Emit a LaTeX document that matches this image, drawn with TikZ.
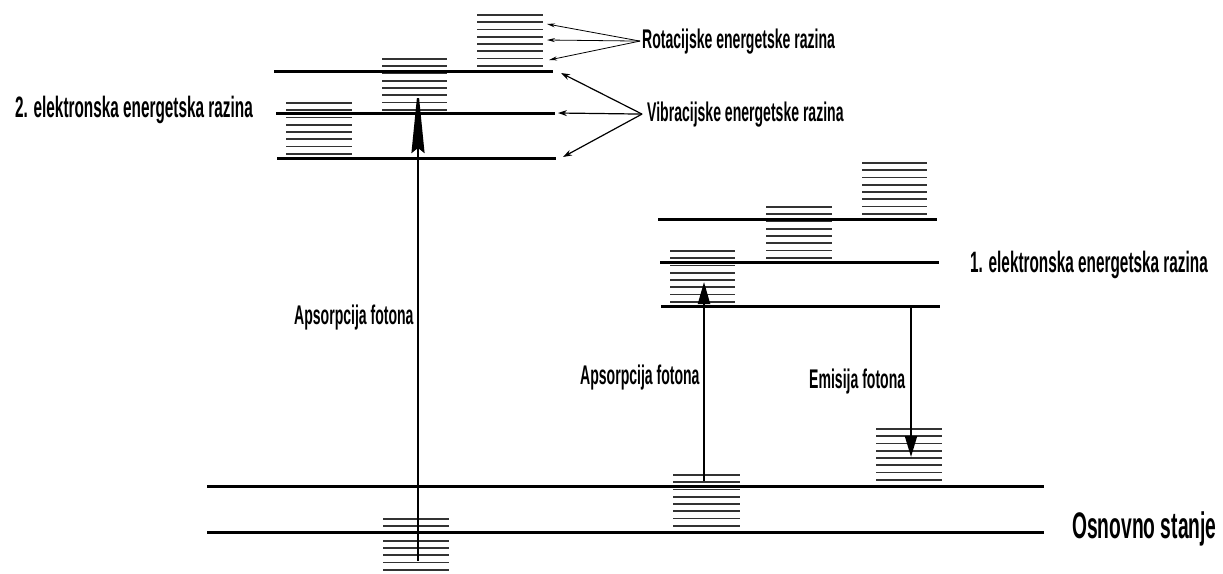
\documentclass[tikz,border=0pt]{standalone}
\usepackage{fontspec}
\setmainfont{Liberation Sans}[FakeStretch=0.52]
\usetikzlibrary{arrows.meta}
\tikzstyle{elevel}=[line width=3pt]
\tikzstyle{rlevel}=[line width=1.8pt, black!80]
\tikzstyle{lab}=[inner sep=2pt, font=\bfseries\fontsize{27}{30}\selectfont]
\tikzstyle{biglab}=[inner sep=2pt, font=\bfseries\fontsize{29.5}{32}\selectfont]
\tikzstyle{photon}=[line width=2.2pt]
\tikzstyle{pointer}=[line width=1.2pt, -{Stealth[length=9pt,width=6pt]}]
\tikzstyle{thinpointer}=[line width=0.8pt, -{Stealth[length=8pt,width=4pt]}]
\newcommand{\rotlevels}[3]{\foreach \k in {0,...,7} \draw[rlevel] (#1,{#3+7.25*\k}) -- (#2,{#3+7.25*\k});}

\begin{document}
\begin{tikzpicture}[x=1pt, y=-1pt]
\useasboundingbox (0,0) rectangle (1223,573);
% rotacijske razine
\rotlevels{286}{352}{103}
\rotlevels{382}{447}{59}
\rotlevels{477}{543}{15}
\rotlevels{670}{735}{251}
\rotlevels{766}{832}{207}
\rotlevels{862}{927}{163}
\rotlevels{383}{449}{519}
\rotlevels{673}{740}{475}
\rotlevels{876}{942}{429}
% vibracijske razine
\draw[elevel] (274,71) -- (553,71);
\draw[elevel] (276,113) -- (555,113);
\draw[elevel] (277,158) -- (556,158);
\draw[elevel] (658,219) -- (937,219);
\draw[elevel] (660,262) -- (939,262);
\draw[elevel] (661,306) -- (940,306);
\draw[elevel] (207,486) -- (1044,486);
\draw[elevel] (207,532) -- (1044,532);
% labels
\node[lab, anchor=base west] (rot) at (640,48) {Rotacijske energetske razina};
\node[lab, anchor=base west, inner sep=5pt] (vib) at (642,121) {Vibracijske energetske razina};
\node[biglab, anchor=base west] (el2) at (13,117) {2. elektronska energetska razina};
\node[biglab, anchor=base west] (el1) at (968,272) {1. elektronska energetska razina};
\node[lab, anchor=base west] (aps1) at (292,324) {Apsorpcija fotona};
\node[lab, anchor=base west] (aps2) at (578,384) {Apsorpcija fotona};
\node[lab, anchor=base west] (emi) at (807,388) {Emisija fotona};
\node[anchor=base west, inner sep=2pt, font=\bfseries\fontsize{37}{40}\selectfont] (osn) at (1070,538) {Osnovno stanje};
% tocke
\coordinate (r1) at (547,24);
\coordinate (r2) at (547,40);
\coordinate (r3) at (549,60);
\coordinate (v1) at (561,73);
\coordinate (v2) at (558,113);
\coordinate (v3) at (563,157);
\coordinate (g1) at (418,561);
\coordinate (e2) at (418,87);
\coordinate (g2) at (704,481);
\coordinate (e1) at (704,282);
\coordinate (e1b) at (911,306);
\coordinate (g3) at (911,457);
\draw[thinpointer] (rot.west) -- (r1);
\draw[thinpointer] (rot.west) -- (r2);
\draw[thinpointer] (rot.west) -- (r3);
\draw[pointer] (vib.west) -- (v1);
\draw[pointer] (vib.west) -- (v2);
\draw[pointer] (vib.west) -- (v3);
\draw[photon, -{Stealth[length=66pt,width=13pt,inset=5pt]}] (g1) -- (e2);
\draw[photon, -{Triangle[length=22pt,width=12pt]}] (g2) -- (e1);
\draw[photon, -{Triangle[length=21pt,width=12pt]}] (e1b) -- (g3);
\end{tikzpicture}
\end{document}
